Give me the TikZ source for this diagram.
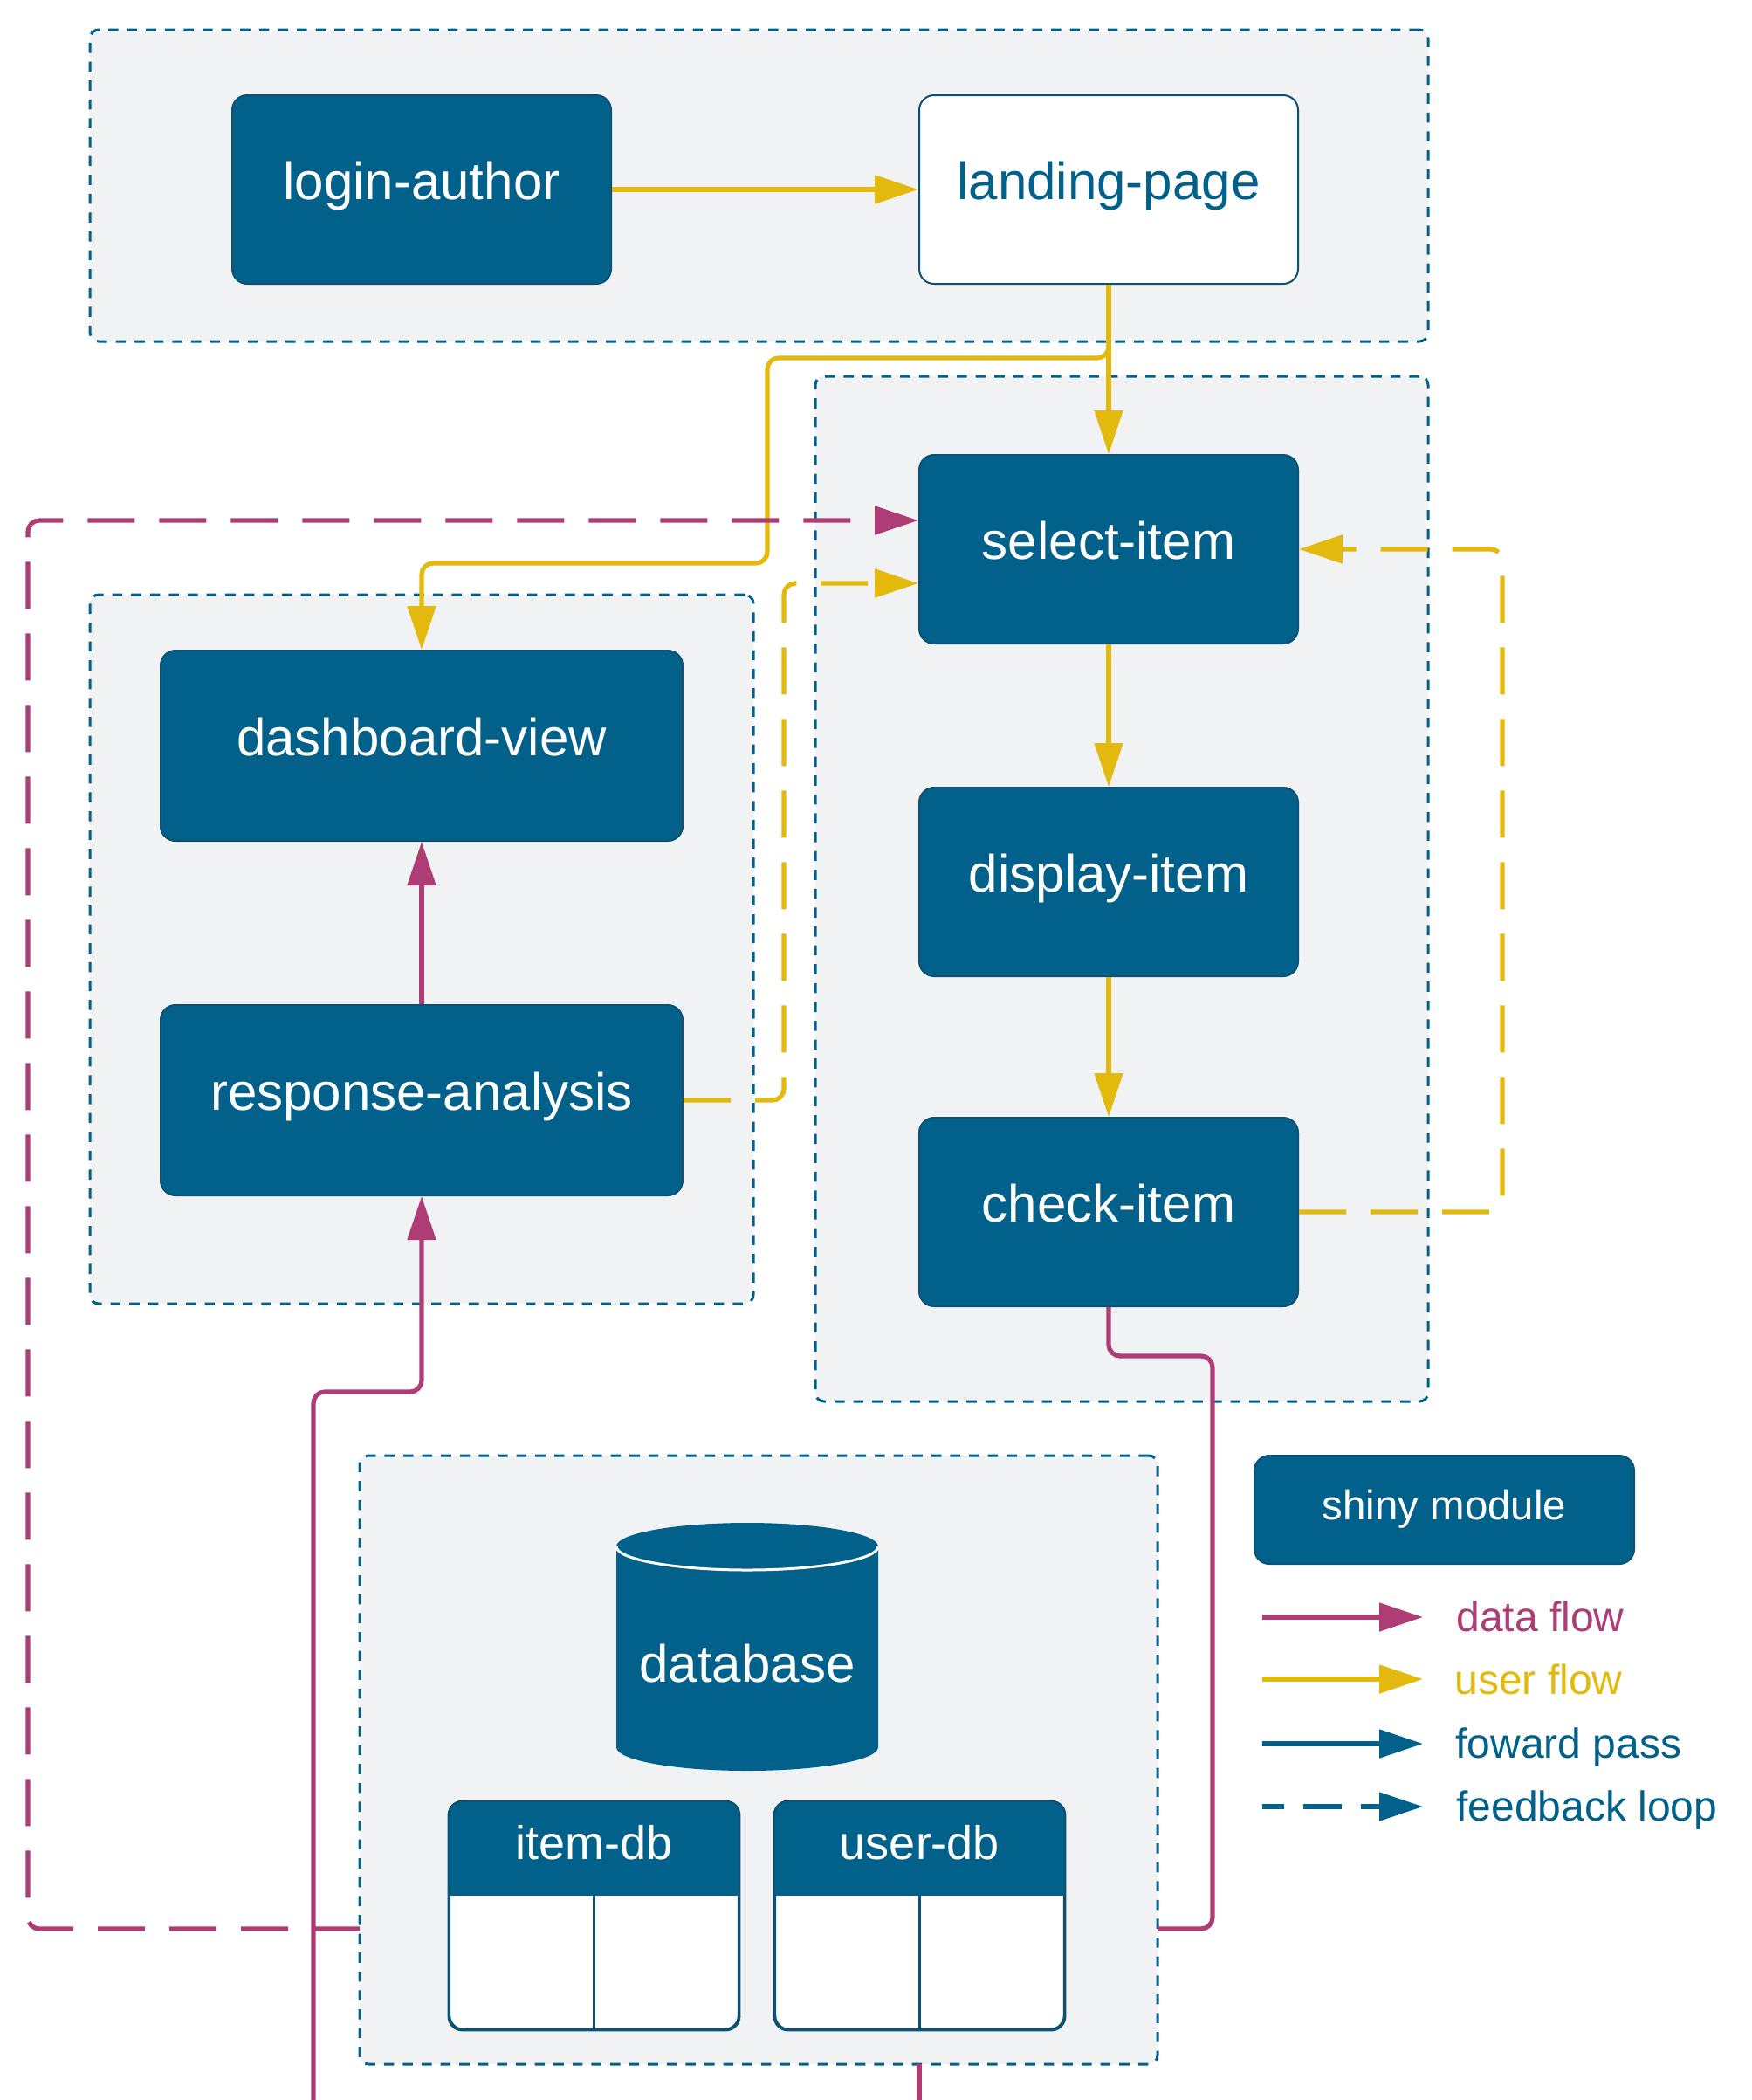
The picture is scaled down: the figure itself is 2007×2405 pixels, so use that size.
\documentclass[tikz,border=0pt]{standalone}
\usepackage{fontspec}
\setmainfont{Liberation Sans}
\usetikzlibrary{arrows.meta}

\definecolor{tblue}{HTML}{02618B}
\definecolor{tborder}{HTML}{0D5272}
\definecolor{umag}{HTML}{AE3D76}
\definecolor{uyel}{HTML}{E3B90E}
\definecolor{grp}{HTML}{F1F2F4}

\begin{document}
\begin{tikzpicture}[x=0.5pt,y=-0.5pt,
  group/.style={draw=tblue, fill=grp, line width=1.5pt, dash pattern=on 5.8pt off 5pt,
    rounded corners=5pt, inner sep=0pt},
  module/.style={draw=tborder, fill=tblue, line width=1pt, rounded corners=8.5pt,
    text=white, font=\fontsize{30pt}{36pt}\selectfont, text height=19pt, text depth=8pt,
    minimum width=217pt, minimum height=108pt, inner sep=0pt},
  widemodule/.style={module, minimum width=299pt, minimum height=109pt},
  flow/.style={line width=2.6pt, rounded corners=6.5pt, -{Triangle[length=25pt,width=16pt]}},
  uflow/.style={flow, draw=uyel},
  dflow/.style={flow, draw=umag},
  bflow/.style={flow, draw=tblue},
  dline/.style={line width=2.6pt, rounded corners=6.5pt, draw=umag},
  fb/.style={dash pattern=on 27pt off 14pt},
  tbl/.style={draw=tborder, fill=white, line width=1.2pt, rounded corners=8pt,
    minimum width=165.5pt, minimum height=130pt, inner sep=0pt},
  tbltext/.style={text=white, font=\fontsize{27pt}{32pt}\selectfont, anchor=base, inner sep=0pt},
  legtext/.style={font=\fontsize{24pt}{29pt}\selectfont, anchor=base west, inner sep=0pt},
]
\useasboundingbox (0,0) rectangle (2007,2405);

% ---------- groups ----------
\node[group, minimum width=766.5pt, minimum height=178.5pt] (gTop)  at (869.5,212.5) {};
\node[group, minimum width=351pt,   minimum height=587pt]   (gItem) at (1285,1018) {};
\node[group, minimum width=380pt,   minimum height=406pt]   (gDash) at (483,1087) {};
\node[group, minimum width=457pt,   minimum height=348.5pt] (gData) at (869,2015.5) {};

% ---------- connector end points ----------
\coordinate (dbLeft)   at (412,2209);
\coordinate (dbRight)  at (1326,2209);
\coordinate (dbBottom) at (1053,2364);
\coordinate (inA)      at (359,2405);
\coordinate (outB)     at (1053,2405);

% ---------- modules ----------
\node[module] (login) at (483,217) {login-author};
\node[module, fill=white, text=tblue] (landing) at (1270,217) {landing-page};
\node[module] (select)  at (1270,629)  {select-item};
\node[module] (display) at (1270,1010) {display-item};
\node[module] (check)   at (1270,1388) {check-item};
\node[widemodule] (dashboard) at (483,854)  {dashboard-view};
\node[widemodule] (response)  at (483,1260) {response-analysis};

% ---------- connectors ----------
\draw[uflow] (login.east) -- (landing.west);
\draw[uflow] (landing.south) -- (select.north);
\draw[uflow] (landing.south) -- (1270,410) -- (879,410) -- (879,645) -- (483,645) -- (dashboard.north);
\draw[uflow] (select.south) -- (display.north);
\draw[uflow] (display.south) -- (check.north);
\draw[uflow, fb] (check.east) -- (1721,1388) -- (1721,629) -- (select.east);
\draw[uflow, fb] (response.east) -- (898,1260) -- (898,668) -- (select.west |- 0,668);
\draw[dflow, fb] (dbLeft) -- (32,2209) -- (32,596) -- (select.west |- 0,596);
\draw[dflow] (response.north) -- (dashboard.south);
\draw[dflow] (inA) -- (359,1594) -- (483,1594) -- (response.south);
\draw[dline] (check.south) -- (1270,1553) -- (1389,1553) -- (1389,2209) -- (dbRight);
\draw[dline] (dbBottom) -- (outB);

% ---------- database cylinder ----------
\fill[tblue] (706,1771) -- (706,2001)
  arc[start angle=180, end angle=360, x radius=75pt, y radius=13.5pt]
  -- (1006,1771)
  arc[start angle=0, end angle=180, x radius=75pt, y radius=13.5pt] -- cycle;
\draw[white, line width=1.5pt] (706,1771)
  arc[start angle=180, end angle=360, x radius=75pt, y radius=13.5pt];
\node[text=white, font=\fontsize{30pt}{36pt}\selectfont, anchor=base, inner sep=0pt]
  (database) at (856,1926) {database};

% ---------- tables ----------
\node[tbl] (itemdb) at (680.5,2194) {};
\node[tbl] (userdb) at (1053.5,2194) {};
\foreach \t in {itemdb,userdb}{
  \begin{scope}
    \clip[rounded corners=8pt] (\t.north west) rectangle (\t.south east);
    \fill[tblue] (\t.north west) rectangle ([yshift=-54pt]\t.north east);
  \end{scope}
  \draw[tborder, line width=1.2pt] ([yshift=-54pt]\t.north) -- (\t.south);
  \draw[tborder, line width=1.2pt, rounded corners=8pt] (\t.north west) rectangle (\t.south east);
}
\node[tbltext] (itemdbLabel) at (680.5,2129) {item-db};
\node[tbltext] (userdbLabel) at (1053.5,2129) {user-db};

% ---------- legend ----------
\node[module, minimum width=217.5pt, minimum height=62pt, font=\fontsize{23.7pt}{28pt}\selectfont,
  text height=16pt, text depth=5pt] (legendBox) at (1654.5,1729) {shiny module};

\coordinate (l1a) at (1446,1852); \coordinate (l1b) at (1630,1852);
\coordinate (l2a) at (1446,1923); \coordinate (l2b) at (1630,1923);
\coordinate (l3a) at (1446,1997); \coordinate (l3b) at (1630,1997);
\coordinate (l4a) at (1446,2069); \coordinate (l4b) at (1630,2069);
\draw[dflow] (l1a) -- (l1b);
\draw[uflow] (l2a) -- (l2b);
\draw[bflow] (l3a) -- (l3b);
\draw[bflow, dash pattern=on 12.5pt off 11pt on 22pt off 11pt] (l4a) -- (l4b);

\node[legtext, text=umag]  (legData) at (1668,1868) {data flow};
\node[legtext, text=uyel]  (legUser) at (1666,1940) {user flow};
\node[legtext, text=tblue] (legFwd)  at (1667,2013) {foward pass};
\node[legtext, text=tblue] (legFb)   at (1668,2085) {feedback loop};
\end{tikzpicture}
\end{document}
